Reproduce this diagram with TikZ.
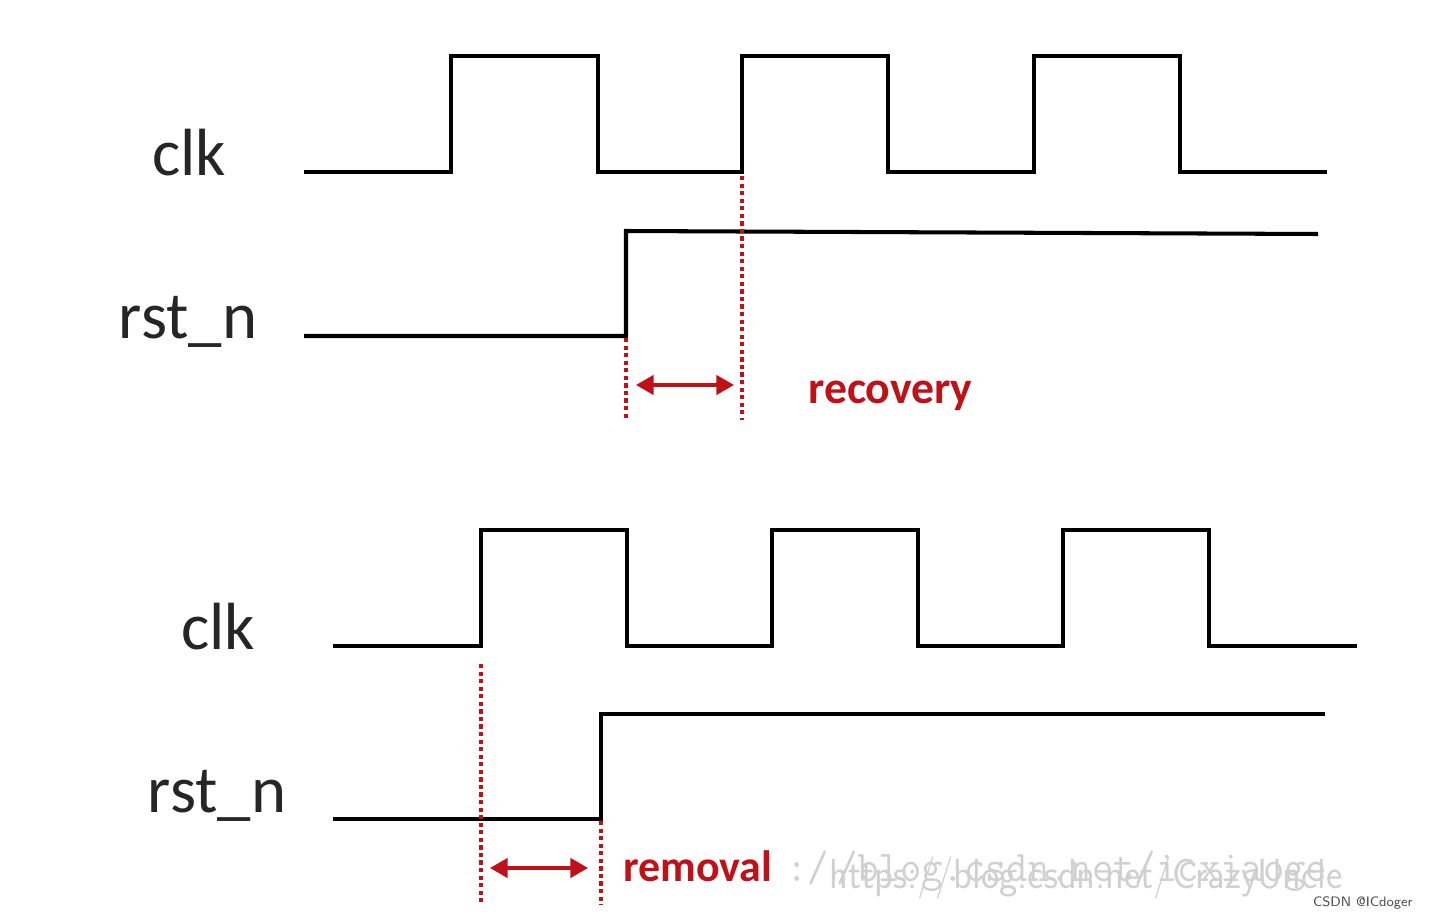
\documentclass[tikz,border=0pt]{standalone}
\usepackage{fontspec}
\setmainfont{Carlito}
\usetikzlibrary{arrows.meta,positioning}
\definecolor{tmred}{RGB}{192,16,24}
\definecolor{tmmark}{RGB}{208,208,208}
\tikzset{
  wave/.style={line width=2.3pt,black,line join=miter},
  sigtag/.style={font=\fontsize{38}{38}\selectfont,text=black!85,inner sep=0pt},
  dotline/.style={tmred,line width=2pt,dash pattern=on 2.4pt off 1.9pt},
  spanarrow/.style={tmred,line width=1.8pt,{Triangle[length=10pt,width=11pt]}-{Triangle[length=10pt,width=11pt]}},
  spantag/.style={font=\bfseries\fontsize{26}{26}\selectfont,text=tmred,inner sep=0pt},
  marktag/.style={text=tmmark,anchor=west,inner sep=0pt}
}
\begin{document}
\begin{tikzpicture}[x=0.02cm,y=-0.02cm]
  \useasboundingbox (0,0) rectangle (1429,919);

  % recovery
  \node[sigtag] (clkA) at (189,153) {clk};
  \node[sigtag] (rstA) at (188,322) {rst\_n};
  \draw[wave] (304,172) -- (451,172) -- (451,56) -- (598,56) -- (598,172)
    -- (742,172) -- (742,56) -- (888,56) -- (888,172) -- (1034,172)
    -- (1034,56) -- (1180,56) -- (1180,172) -- (1327,172);
  \draw[wave] (304,336) -- (626,336) -- (626,231) -- (1318,234);
  \coordinate (edgeA) at (742,176);
  \coordinate (edgeAend) at (742,420);
  \coordinate (rstA up) at (626,338);
  \coordinate (rstA end) at (626,420);
  \draw[dotline] (edgeA) -- (edgeAend);
  \draw[dotline] (rstA up) -- (rstA end);
  \coordinate (recL) at (636,385);
  \coordinate (recR) at (734,385);
  \draw[spanarrow] (recL) -- (recR);
  \node[spantag,anchor=west] (rec) at (808,396) {recovery};

  % removal
  \node[sigtag] (clkB) at (218,627) {clk};
  \node[sigtag] (rstB) at (217,796) {rst\_n};
  \draw[wave] (333,646) -- (481,646) -- (481,530) -- (627,530) -- (627,646)
    -- (772,646) -- (772,530) -- (918,530) -- (918,646) -- (1063,646)
    -- (1063,530) -- (1209,530) -- (1209,646) -- (1357,646);
  \draw[wave] (333,819) -- (601,819) -- (601,714) -- (1325,714);
  \coordinate (edgeB) at (481,664);
  \coordinate (edgeBend) at (481,905);
  \coordinate (rstB up) at (601,821);
  \coordinate (rstB end) at (601,905);
  \draw[dotline] (edgeB) -- (edgeBend);
  \draw[dotline] (rstB up) -- (rstB end);
  \coordinate (remL) at (490,868);
  \coordinate (remR) at (588,868);
  \draw[spanarrow] (remL) -- (remR);
  \node[spantag,anchor=west,font=\bfseries\fontsize{25}{25}\selectfont] (rem) at (623,866) {removal};

  % watermarks
  \node[marktag,font=\ttfamily\fontsize{20}{20}\selectfont,xscale=1.18,yscale=1.25] (markA) at (786,871) {:/\,/blog.csdn.net/icxiaoge};
  \node[marktag,font=\sffamily\fontsize{24}{24}\selectfont,xscale=0.92] (markB) at (829,878) {https://blog.csdn.net/CrazyUncle};
  \node[font=\sffamily\fontsize{7.8}{7.8}\selectfont,text=black!70,anchor=east,inner sep=0pt] (csdn) at (1413,903) {CSDN @ICdoger};
\end{tikzpicture}
\end{document}
